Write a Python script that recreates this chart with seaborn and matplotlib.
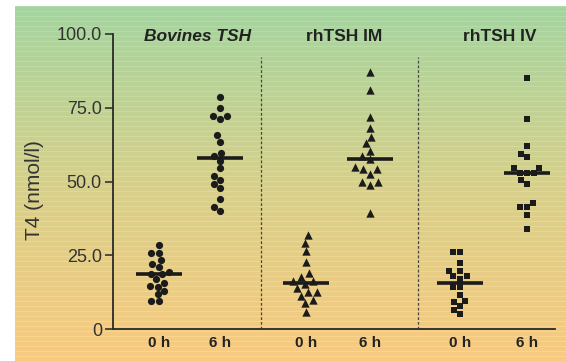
import numpy as np
import pandas as pd
import matplotlib
matplotlib.use("Agg")
import matplotlib.pyplot as plt
from matplotlib.colors import LinearSegmentedColormap
import seaborn as sns

# ---------------- data ----------------
groups = ["Bovines TSH", "rhTSH IM", "rhTSH IV"]
times = ["0 h", "6 h"]
ytick_values = [0, 25, 50, 75, 100]
ytick_labels = ["0", "25.0", "50.0", "75.0", "100.0"]
y_label = "T4 (nmol/l)"

bovines_0h = [25.9, 22.0, 16.8, 14.4, 11.8, 18.6, 25.9, 19.4, 14.6, 9.4,
              23.4, 18.6, 13.0, 28.5, 21.0, 15.7, 9.4]
bovines_6h = [78.7, 75.0, 72.3, 71.2, 72.3, 65.8, 63.5, 58.6, 59.6, 57.0,
              54.5, 52.0, 49.2, 47.9, 50.5, 44.1, 40.0, 41.5]
im_0h = [31.9, 29.3, 26.5, 22.8, 18.9, 17.7, 16.3, 15.2, 16.3, 13.8,
         12.6, 12.6, 9.8, 11.2, 8.7, 5.9]
im_6h = [87.2, 81.0, 71.8, 68.0, 65.2, 62.9, 60.4, 58.7, 57.5, 55.0,
         54.1, 54.1, 52.5, 49.9, 48.8, 49.9, 39.4]
iv_0h = [26.0, 26.0, 22.3, 19.8, 19.8, 17.9, 17.9, 17.0, 14.3, 14.3,
         11.5, 9.6, 9.3, 7.8, 6.4, 5.1]
iv_6h = [85.2, 71.1, 62.0, 58.2, 59.3, 54.5, 54.5, 53.0, 52.8, 52.8,
         50.5, 49.1, 42.8, 41.5, 41.5, 38.6, 33.8]

series = {
    ("Bovines TSH", "0 h"): bovines_0h,
    ("Bovines TSH", "6 h"): bovines_6h,
    ("rhTSH IM", "0 h"): im_0h,
    ("rhTSH IM", "6 h"): im_6h,
    ("rhTSH IV", "0 h"): iv_0h,
    ("rhTSH IV", "6 h"): iv_6h,
}

# ---------------- layout ----------------
POS = {
    ("Bovines TSH", "0 h"): 0.0,
    ("Bovines TSH", "6 h"): 0.953,
    ("rhTSH IM", "0 h"): 2.297,
    ("rhTSH IM", "6 h"): 3.297,
    ("rhTSH IV", "0 h"): 4.703,
    ("rhTSH IV", "6 h"): 5.75,
}
MARKERS = {"Bovines TSH": "o", "rhTSH IM": "^", "rhTSH IV": "s"}
SIZES = {"Bovines TSH": 5.2, "rhTSH IM": 6.0, "rhTSH IV": 5.0}
TITLE_X = {"Bovines TSH": 0.61, "rhTSH IM": 2.89, "rhTSH IV": 5.33}
TITLE_STYLE = {"Bovines TSH": "italic", "rhTSH IM": "normal", "rhTSH IV": "normal"}
DIVIDERS = [1.594, 4.047]

rows = []
for (g, t), vals in series.items():
    for v in vals:
        rows.append({"group": g, "time": t, "pos": POS[(g, t)], "value": v})
df = pd.DataFrame(rows)

sns.set_theme(style="white")
plt.rcParams["font.family"] = ["Liberation Sans", "DejaVu Sans"]

W, H = 566, 361
fig = plt.figure(figsize=(W / 100, H / 100), dpi=100)
fig.patch.set_facecolor("white")

# gradient background
bg = fig.add_axes([15 / W, 0, 1 - 15 / W, 355 / H], zorder=0)
cmap = LinearSegmentedColormap.from_list(
    "bg", [(0.0, (165/255, 212/255, 160/255)),
           (0.5, (214/255, 208/255, 140/255)),
           (1.0, (248/255, 202/255, 128/255))])
n = 355
grad = np.linspace(0, 1, n)[:, None]
img = cmap(np.repeat(grad, 4, axis=1))
stripe = (np.arange(n) % 5 == 0)
img[stripe, :, :3] = np.clip(img[stripe, :, :3] + 0.035, 0, 1)
bg.imshow(img, aspect="auto", extent=[0, 1, 0, 1], interpolation="nearest")
bg.axis("off")

ax = fig.add_axes([113 / W, 32 / H, (555 - 113) / W, (329 - 34) / H], zorder=1)
ax.patch.set_alpha(0)

ink = "#1b1b1b"
for g in groups:
    sub = df[df.group == g]
    sns.swarmplot(data=sub, x="pos", y="value", native_scale=True, orient="x",
                  marker=MARKERS[g], size=SIZES[g], color=ink, linewidth=0,
                  ax=ax, zorder=3)
    for t in times:
        vals = series[(g, t)]
        p = POS[(g, t)]
        ax.hlines(np.median(vals), p - 0.36, p + 0.36, color=ink, lw=2.6, zorder=4)
    ax.text(TITLE_X[g], 99.3, g, ha="center", va="center", fontsize=12.5,
            fontweight="bold", fontstyle=TITLE_STYLE[g], color="#222222")

ax.vlines(DIVIDERS, 0, 92.2, colors="#444444", linestyles=(0, (2.2, 1.6)), lw=0.9, zorder=2)

ax.set_xlim(-0.719, 6.1875)
ax.set_ylim(0, 100)
ax.set_xticks([POS[(g, t)] for g in groups for t in times])
ax.set_xticklabels([t for g in groups for t in times], fontsize=11,
                   fontweight="bold", color="#222222")
ax.set_yticks(ytick_values)
ax.set_yticklabels(ytick_labels, fontsize=13, color="#333333")
ax.tick_params(axis="x", length=0, pad=5)
ax.tick_params(axis="y", length=6, width=1.2, color="#333333", pad=2, left=True)
ax.set_xlabel("")
ax.set_ylabel("")
for s in ["top", "right"]:
    ax.spines[s].set_visible(False)
for s in ["left", "bottom"]:
    ax.spines[s].set_color("#2a2a2a")
    ax.spines[s].set_linewidth(1.3)

fig.text(34 / W, 1 - 190 / H, y_label, rotation=90, ha="center", va="center",
         fontsize=15, color="#333333")

fig.savefig("out.png", dpi=100)
